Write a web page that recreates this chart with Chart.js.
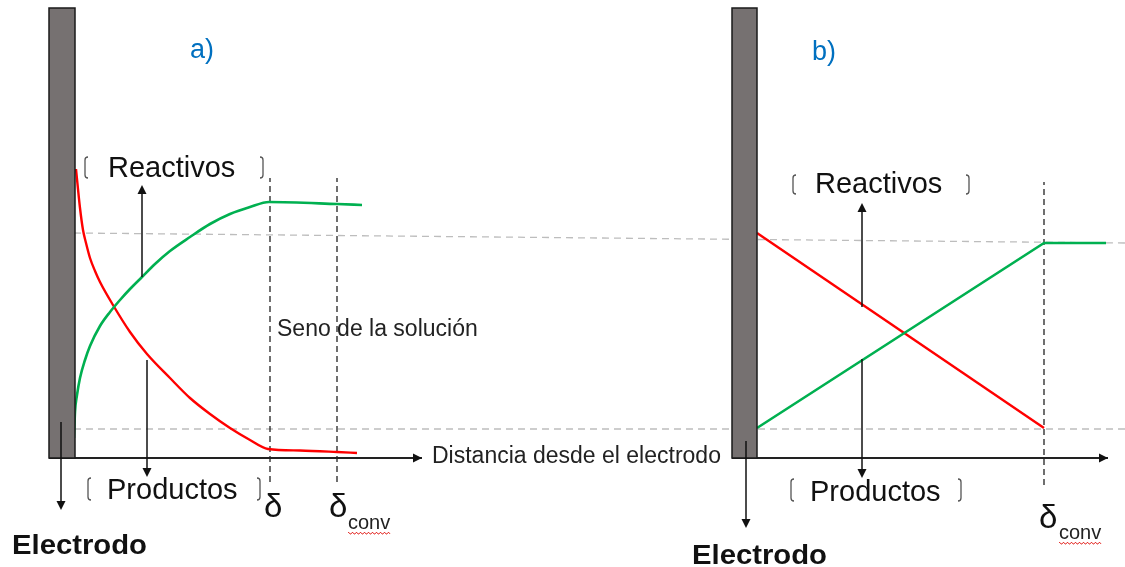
<!DOCTYPE html>
<html>
<head>
<meta charset="utf-8">
<script src="https://cdn.jsdelivr.net/npm/chart.js@4.4.1/dist/chart.umd.min.js"></script>
<style>
  html, body { margin: 0; padding: 0; background: #ffffff; }
  #wrap { width: 1125px; height: 567px; }
</style>
</head>
<body>
<div id="wrap"><canvas id="c" width="1125" height="567"></canvas></div>
<script>
// ---------------- DATA (distance units along x, concentration units along y; 0 = axis) -------------
// Panel a) — curved profiles
const distA_red     = [76, 80, 83, 86, 90, 95, 100, 113, 130, 147, 170, 190, 210, 230, 250, 268, 300, 337, 357];
const concA_red     = [289, 250, 228, 215, 200, 187, 176, 153, 126, 104, 80, 60, 44, 30, 18, 9, 7.5, 6, 5];
const distA_green   = [74, 75, 77, 80, 85, 90, 100, 110, 120, 130, 142, 155, 170, 190, 210, 230, 250, 269, 337, 362];
const concA_green   = [20, 46, 63, 80, 98, 112, 132, 146, 158, 169, 181, 194, 207, 221, 234, 244, 251, 256, 254, 253];
// Panel b) — linear profiles
const distB_red     = [757, 1044];
const concB_red     = [225, 30];
const distB_green   = [757, 1044, 1106];
const concB_green   = [30, 215, 215];
// Reference (bulk / surface) levels, dashed grey
const distRefLines  = [74, 1125];
const concRefUpper  = [225, 215];
const concRefLower  = [29, 29];
// Boundary-layer markers (δ, δconv)
const deltaA        = [270, 337];
const deltaB        = [1044];
const deltaSpanA    = [-24, 280];
const deltaSpanB    = [-27, 276];
// Distance axes
const axisA         = [49, 422];
const axisB         = [732, 1108];
// Electrodes
const electrodeA    = [49, 75];
const electrodeB    = [732, 757];
const electrodeSpan = [0, 450];

// ---------------- helpers ----------------
const pts = (xs, ys) => xs.map((v, i) => ({ x: v, y: ys[i] }));
const RED = '#FF0000', GREEN = '#00B050', GREYDASH = '#BDBDBD', INK = '#111111';

function lineDS(xs, ys, color, width, extra) {
  return Object.assign({
    data: pts(xs, ys), showLine: true, borderColor: color, backgroundColor: color,
    borderWidth: width, pointRadius: 0, pointHoverRadius: 0, fill: false, clip: false
  }, extra || {});
}

const datasets = [
  lineDS(distRefLines, concRefUpper, GREYDASH, 1.3, { borderDash: [7, 5], order: 9 }),
  lineDS(distRefLines, concRefLower, GREYDASH, 1.3, { borderDash: [7, 5], order: 9 }),
  lineDS([deltaA[0], deltaA[0]], deltaSpanA, '#222', 1.3, { borderDash: [6, 4], order: 8 }),
  lineDS([deltaA[1], deltaA[1]], deltaSpanA, '#222', 1.3, { borderDash: [6, 4], order: 8 }),
  lineDS([deltaB[0], deltaB[0]], deltaSpanB, '#222', 1.3, { borderDash: [6, 4], order: 8 }),
  lineDS(axisA, [0, 0], '#222', 2, { order: 7 }),
  lineDS(axisB, [0, 0], '#222', 2, { order: 7 }),
  lineDS(distA_red, concA_red, RED, 2.4, { cubicInterpolationMode: 'monotone', order: 2 }),
  lineDS(distA_green, concA_green, GREEN, 2.6, { cubicInterpolationMode: 'monotone', order: 1 }),
  lineDS(distB_red, concB_red, RED, 2.4, { order: 2 }),
  lineDS(distB_green, concB_green, GREEN, 2.6, { order: 1 })
];

// ---------------- annotations (in data units) ----------------
const arrows = [
  { x: 142, from: 181, to: 273 },   // Reactivos a
  { x: 147, from: 98,  to: -19 },   // Productos a
  { x: 61,  from: 36,  to: -52 },   // Electrodo a
  { x: 862, from: 151, to: 255 },   // Reactivos b
  { x: 862, from: 99,  to: -20 },   // Productos b
  { x: 746, from: 17,  to: -70 }    // Electrodo b
];
const axisArrowTips = [ { x: axisA[1], y: 0 }, { x: axisB[1], y: 0 } ];

const brackets = [
  { x: 85, top: 301, bottom: 280, dir: 1 },  { x: 263, top: 301, bottom: 280, dir: -1 },
  { x: 88, top: -20, bottom: -42, dir: 1 },  { x: 260, top: -20, bottom: -42, dir: -1 },
  { x: 793, top: 283, bottom: 264, dir: 1 }, { x: 969, top: 283, bottom: 264, dir: -1 },
  { x: 791, top: -21, bottom: -43, dir: 1 }, { x: 961, top: -21, bottom: -43, dir: -1 }
];

const FONT = '"Liberation Sans", Arial, sans-serif';
const labels = [
  { t: 'a)', x: 202, y: 400, size: 27, color: '#0070C0', align: 'center' },
  { t: 'b)', x: 824, y: 398, size: 27, color: '#0070C0', align: 'center' },
  { t: 'Reactivos', x: 108, y: 281, size: 29, color: INK },
  { t: 'Productos', x: 107, y: -41, size: 29, color: INK },
  { t: 'Reactivos', x: 815, y: 265, size: 29, color: INK },
  { t: 'Productos', x: 810, y: -43, size: 29, color: INK },
  { t: 'Seno de la solución', x: 277, y: 122, size: 23, color: '#222' },
  { t: 'Distancia desde el electrodo', x: 432, y: -5, size: 23, color: '#222' },
  { t: 'Electrodo', x: 12, y: -96, size: 27, bold: true, color: INK, width: 135 },
  { t: 'Electrodo', x: 692, y: -106, size: 27, bold: true, color: INK, width: 135 },
  { t: 'δ', x: 264, y: -59, size: 33, color: INK },
  { t: 'δ', x: 329, y: -59, size: 33, color: INK },
  { t: 'conv', x: 348, y: -71, size: 20, color: '#222', wavy: true },
  { t: 'δ', x: 1039, y: -70, size: 33, color: INK },
  { t: 'conv', x: 1059, y: -81, size: 20, color: '#222', wavy: true }
];

const decor = {
  id: 'decor',
  afterDatasetsDraw(chart) {
    const { ctx, scales } = chart;
    const X = v => scales.x.getPixelForValue(v), Y = v => scales.y.getPixelForValue(v);
    ctx.save();
    // electrodes
    [electrodeA, electrodeB].forEach(e => {
      const x0 = X(e[0]), x1 = X(e[1]), y0 = Y(electrodeSpan[1]), y1 = Y(electrodeSpan[0]);
      ctx.fillStyle = '#767171';
      ctx.fillRect(x0, y0, x1 - x0, y1 - y0);
      ctx.strokeStyle = '#1a1a1a'; ctx.lineWidth = 1.5;
      ctx.strokeRect(x0, y0, x1 - x0, y1 - y0);
    });
    // vertical arrows
    const head = (px, py, dx, dy) => {
      const L = 9, W = 4.5;
      ctx.beginPath();
      ctx.moveTo(px, py);
      ctx.lineTo(px - dx * L - dy * W, py - dy * L + dx * W);
      ctx.lineTo(px - dx * L + dy * W, py - dy * L - dx * W);
      ctx.closePath(); ctx.fill();
    };
    ctx.strokeStyle = '#111'; ctx.fillStyle = '#111'; ctx.lineWidth = 1.5;
    arrows.forEach(a => {
      const px = X(a.x), p0 = Y(a.from), p1 = Y(a.to);
      const dy = p1 > p0 ? 1 : -1;
      ctx.beginPath(); ctx.moveTo(px, p0); ctx.lineTo(px, p1 - dy * 6); ctx.stroke();
      head(px, p1, 0, dy);
    });
    axisArrowTips.forEach(t => head(X(t.x), Y(t.y), 1, 0));
    // brackets
    ctx.strokeStyle = '#555'; ctx.lineWidth = 1.3;
    brackets.forEach(b => {
      const px = X(b.x), t = Y(b.top), bo = Y(b.bottom);
      ctx.beginPath();
      ctx.moveTo(px + b.dir * 3, t);
      ctx.quadraticCurveTo(px, t, px, t + 3);
      ctx.lineTo(px, bo - 3);
      ctx.quadraticCurveTo(px, bo, px + b.dir * 3, bo);
      ctx.stroke();
    });
    // text
    ctx.textBaseline = 'alphabetic';
    labels.forEach(l => {
      ctx.font = (l.bold ? 'bold ' : '') + l.size + 'px ' + FONT;
      ctx.fillStyle = l.color;
      ctx.textAlign = l.align || 'left';
      const px = X(l.x), py = Y(l.y);
      if (l.width) {
        const w = ctx.measureText(l.t).width;
        ctx.save(); ctx.translate(px, py); ctx.scale(l.width / w, 1);
        ctx.fillText(l.t, 0, 0); ctx.restore();
      } else {
        ctx.fillText(l.t, px, py);
      }
      if (l.wavy) {
        const w = ctx.measureText(l.t).width;
        ctx.strokeStyle = '#E53935'; ctx.lineWidth = 1;
        ctx.beginPath();
        for (let i = 0; i <= w; i += 1) {
          const yy = py + 4 + ((Math.floor(i / 2) % 2) ? 1 : -0.5);
          if (i === 0) ctx.moveTo(px + i, yy); else ctx.lineTo(px + i, yy);
        }
        ctx.stroke();
      }
    });
    ctx.restore();
  }
};

new Chart(document.getElementById('c'), {
  type: 'scatter',
  data: { datasets },
  options: {
    responsive: false, animation: false, events: [],
    layout: { padding: 0 },
    plugins: { legend: { display: false }, tooltip: { enabled: false }, title: { display: false } },
    scales: {
      x: { type: 'linear', min: 0, max: 1125, display: false },
      y: { type: 'linear', min: -109, max: 458, display: false }
    }
  },
  plugins: [decor]
});
</script>
</body>
</html>
